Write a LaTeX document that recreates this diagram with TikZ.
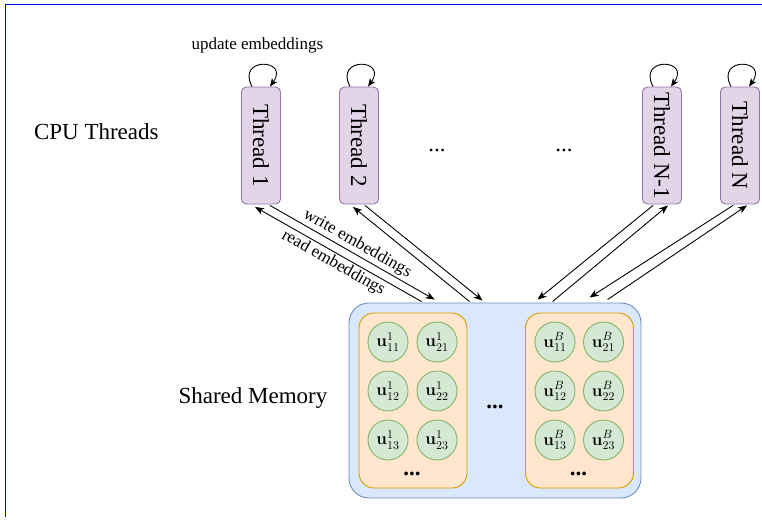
\RequirePackage{fix-cm}
\documentclass[tikz,border=0pt]{standalone}
\usepackage[no-math]{fontspec}
\setmainfont{Liberation Serif}
\usepackage{graphicx}
\usetikzlibrary{arrows.meta,calc}
\definecolor{thfill}{HTML}{E1D5E7}
\definecolor{thdraw}{HTML}{9673A6}
\definecolor{memfill}{HTML}{DAE8FC}
\definecolor{memdraw}{HTML}{6C8EBF}
\definecolor{grpfill}{HTML}{FFE6CC}
\definecolor{grpdraw}{HTML}{D79B00}
\definecolor{cfill}{HTML}{D5E8D4}
\definecolor{cdraw}{HTML}{82B366}
\definecolor{framecol}{HTML}{0000FF}
\begin{document}
\begin{tikzpicture}[x=1pt,y=-1pt,
  big/.style={font=\fontsize{23}{27}\selectfont},
  small/.style={font=\fontsize{17}{20}\selectfont},
  threadbox/.style={draw=thdraw,fill=thfill,rounded corners=5pt,minimum width=39pt,minimum height=117pt,inner sep=0pt,line width=0.9pt,big},
  membox/.style={draw=memdraw,fill=memfill,rounded corners=20pt,minimum width=292pt,minimum height=195pt,line width=0.9pt},
  grpbox/.style={draw=grpdraw,fill=grpfill,rounded corners=15pt,minimum width=108pt,minimum height=175pt,line width=0.9pt},
  cell/.style={circle,draw=cdraw,fill=cfill,minimum size=40pt,inner sep=0pt,line width=0.9pt,font=\fontsize{17}{20}\selectfont},
  conn/.style={line width=0.9pt,black},
  tip/.style={-{Stealth[length=9pt,width=7pt,inset=2.5pt]}},
  rtip/.style={{Stealth[length=9pt,width=7pt,inset=2.5pt]}-},
  looptip/.style={-{Stealth[length=8pt,width=6.5pt,inset=2pt]}},
  dots/.style={big,anchor=base}
]
\useasboundingbox (0,0) rectangle (762,521);
\draw[framecol,line width=1pt] (5,517) -- (5,5) -- (762,5);

% labels
\node[big,anchor=base west] (cpu) at (30.5,139.3) {CPU Threads};
\node[big,anchor=base west] (shm) at (175,403) {Shared Memory};
\node[small,anchor=base west] (upd) at (188,49.5) {update embeddings};

% threads
\node[threadbox] (t1) at (261,145.5) {\rotatebox{-90}{Thread 1}};
\node[threadbox] (t2) at (359,145.5) {\rotatebox{-90}{Thread 2}};
\node[threadbox] (tn1) at (662,145.5) {\rotatebox{-90}{Thread N-1}};
\node[threadbox] (tn) at (740,145.5) {\rotatebox{-90}{Thread N}};
\node[dots] (d1) at (437,152) {...};
\node[dots] (d2) at (564,152) {...};

% self loops
\foreach \t in {t1,t2,tn1,tn}{
  \draw[conn,looptip] ($(\t.north)+(-9,0)$) .. controls +(-16,-30) and +(20,-28) .. ($(\t.north)+(9,0)$);
}

% memory
\node[membox] (mem) at (495,400.5) {};
\node[grpbox] (g1) at (413,400.5) {};
\node[grpbox] (g2) at (579.5,400.5) {};
\node[cell] (a11) at (388,342) {$\mathbf{u}^{1}_{11}$};
\node[cell] (a21) at (437,342) {$\mathbf{u}^{1}_{21}$};
\node[cell] (a12) at (388,391) {$\mathbf{u}^{1}_{12}$};
\node[cell] (a22) at (437,391) {$\mathbf{u}^{1}_{22}$};
\node[cell] (a13) at (388,440) {$\mathbf{u}^{1}_{13}$};
\node[cell] (a23) at (437,440) {$\mathbf{u}^{1}_{23}$};
\node[cell] (b11) at (555,342) {$\mathbf{u}^{B}_{11}$};
\node[cell] (b21) at (603.5,342) {$\mathbf{u}^{B}_{21}$};
\node[cell] (b12) at (555,391) {$\mathbf{u}^{B}_{12}$};
\node[cell] (b22) at (603.5,391) {$\mathbf{u}^{B}_{22}$};
\node[cell] (b13) at (555,440) {$\mathbf{u}^{B}_{13}$};
\node[cell] (b23) at (603.5,440) {$\mathbf{u}^{B}_{23}$};
\node[dots] (gd1) at (412,475) {\textbf{...}};
\node[dots] (gd2) at (578.5,475) {\textbf{...}};
\node[dots] (md) at (495,408) {\textbf{...}};

% connectors
\draw[conn,rtip] ($(t1.south)+(-6,2.5)$) -- node[sloped,below,small,inner sep=2pt] {read embeddings} ($(mem.north west)+(73,-1)$);
\draw[conn,tip] ($(t1.south)+(9,1)$) -- node[sloped,above,small,inner sep=2pt] {write embeddings} ($(mem.north west)+(86,-3)$);
\draw[conn,rtip] ($(t2.south)+(-6,2.5)$) -- ($(mem.north west)+(121,-1)$);
\draw[conn,tip] ($(t2.south)+(6,1)$) -- ($(mem.north west)+(134,-2)$);
\draw[conn,tip] ($(tn1.south)+(-9,1)$) -- ($(mem.north west)+(189,-3)$);
\draw[conn,rtip] ($(tn1.south)+(6,1)$) -- ($(mem.north west)+(204,-1)$);
\draw[conn,tip] ($(tn.south)+(-7,1)$) -- ($(mem.north west)+(241,-5)$);
\draw[conn,rtip] ($(tn.south)+(7,1)$) -- ($(mem.north west)+(259,-3)$);
\end{tikzpicture}
\end{document}
